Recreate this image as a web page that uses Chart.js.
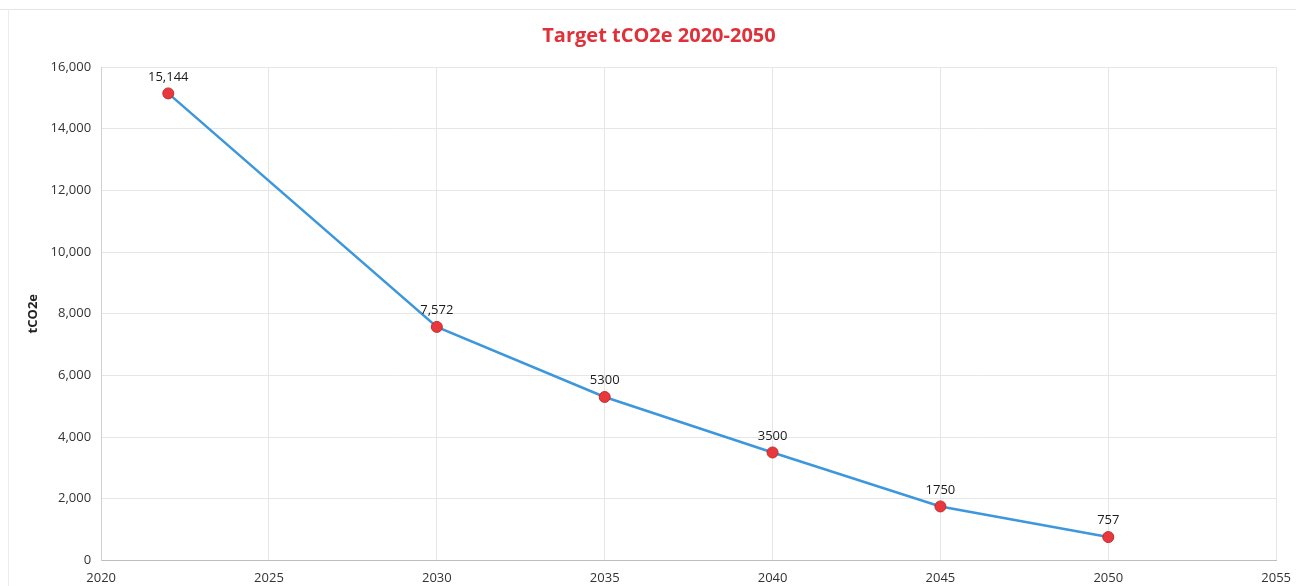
<!DOCTYPE html>
<html>
<head>
<meta charset="utf-8">
<script src="https://cdn.jsdelivr.net/npm/chart.js@4.4.1/dist/chart.umd.min.js"></script>
<style>
  html, body { margin: 0; padding: 0; background: #fff; overflow: hidden; }
  #wrap { position: relative; width: 1296px; height: 586px; overflow: hidden; }
  #wrap::before { content: ''; position: absolute; left: 0; right: 0; top: 9px; border-top: 1px solid #e4e4e4; }
  #wrap::after { content: ''; position: absolute; left: 8px; top: 9px; bottom: 0; border-left: 1px solid #ececec; }
</style>
</head>
<body>
<div id="wrap"><canvas id="c" width="1301" height="596"></canvas></div>
<script>
// ── DATA ────────────────────────────────────────────────────
const years = [2022, 2030, 2035, 2040, 2045, 2050];
const target = [15144, 7572, 5300, 3500, 1750, 757];
const pointLabels = ['15,144', '7,572', '5300', '3500', '1750', '757'];

const FONT = "'Open Sans', 'Liberation Sans', sans-serif";

// ── LABEL PLUGIN ────────────────────────────────────────────
const valueLabels = {
  id: 'valueLabels',
  afterDatasetsDraw(chart) {
    const ctx = chart.ctx;
    const meta = chart.getDatasetMeta(0);
    ctx.save();
    ctx.font = '13px ' + FONT;
    ctx.fillStyle = '#1a1a1a';
    ctx.textAlign = 'center';
    ctx.textBaseline = 'bottom';
    meta.data.forEach((pt, i) => {
      ctx.fillText(pointLabels[i], pt.x, pt.y - 10);
    });
    ctx.restore();
  }
};

new Chart(document.getElementById('c'), {
  type: 'scatter',
  data: {
    datasets: [{
      data: years.map((y, i) => ({ x: y, y: target[i] })),
      showLine: true,
      borderColor: '#3d97dd',
      borderWidth: 2.5,
      pointBackgroundColor: '#e8383d',
      pointBorderColor: '#c42a2a',
      pointBorderWidth: 1,
      pointRadius: 5.5,
      tension: 0
    }]
  },
  options: {
    responsive: false,
    animation: false,
    layout: { padding: { left: 25, right: 8, top: 8, bottom: 0 } },
    plugins: {
      legend: { display: false },
      tooltip: { enabled: false },
      title: {
        display: true,
        text: 'Target tCO2e 2020-2050',
        color: '#e0303a',
        font: { family: FONT, size: 20, weight: 'bold' },
        padding: { top: 16, bottom: 19 }
      }
    },
    scales: {
      x: {
        type: 'linear',
        min: 2020, max: 2055,
        ticks: { stepSize: 5, color: '#333', font: { family: FONT, size: 13 }, padding: 10, callback: v => String(v) },
        grid: { color: '#e6e6e6', drawTicks: false },
        border: { color: '#bdbdbd' }
      },
      y: {
        min: 0, max: 16000,
        ticks: { stepSize: 2000, color: '#333', font: { family: FONT, size: 13 }, padding: 10, callback: v => v.toLocaleString('en-US') },
        grid: { color: '#e6e6e6', drawTicks: false },
        border: { color: '#d0d0d0' },
        title: { display: true, text: 'tCO2e', color: '#222', font: { family: FONT, size: 13, weight: 'bold' }, padding: { top: 0, bottom: 0 } }
      }
    }
  },
  plugins: [valueLabels]
});
</script>
</body>
</html>
